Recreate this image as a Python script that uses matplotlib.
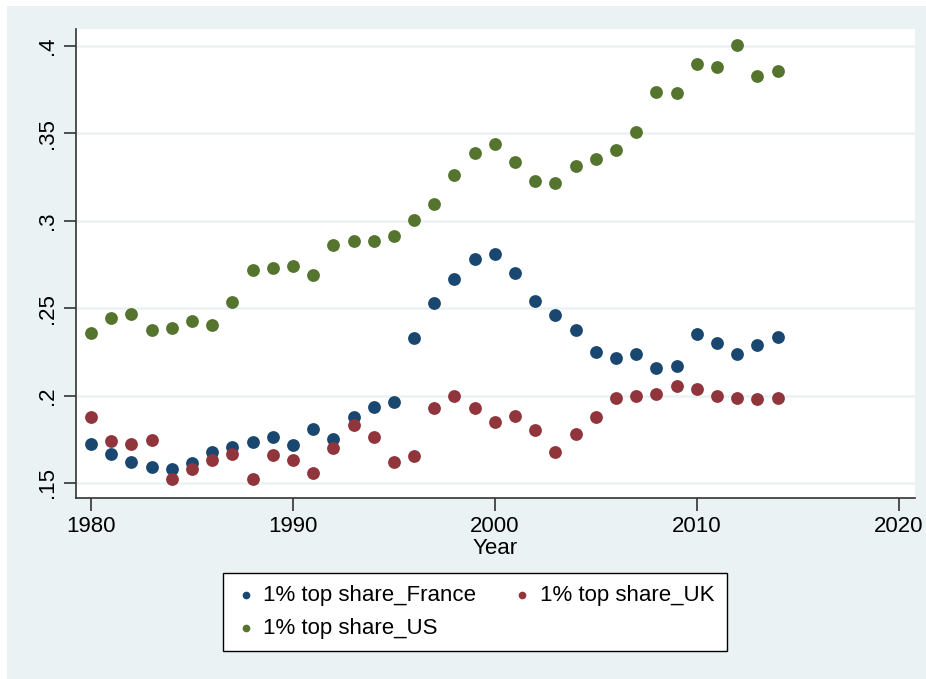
import matplotlib.pyplot as plt
import matplotlib.patches as mpatches

plt.rcParams['font.family'] = ['Liberation Sans', 'DejaVu Sans']

years = list(range(1980, 2015))
france = [.1721, .1668, .1618, .1593, .1580, .1616, .1679, .1708, .1736, .1765,
          .1717, .1809, .1750, .1879, .1933, .1963, .2331, .2530, .2669, .2783,
          .2810, .2703, .2539, .2461, .2375, .2251, .2213, .2238, .2160, .2169,
          .2350, .2299, .2236, .2291, .2337]
uk = [.1876, .1739, .1721, .1748, .1521, .1578, .1630, .1668, .1521, .1660,
      .1633, .1559, .1700, .1830, .1765, .1622, .1654, .1927, .1996, .1931,
      .1851, .1885, .1805, .1679, .1778, .1878, .1988, .1998, .2007, .2057,
      .2038, .1998, .1988, .1979, .1988]
us = [.2358, .2444, .2467, .2375, .2387, .2427, .2404, .2535, .2719, .2730,
      .2741, .2690, .2862, .2884, .2884, .2913, .3005, .3096, .3262, .3388,
      .3439, .3336, .3228, .3216, .3313, .3353, .3405, .3508, .3737, .3731,
      .3897, .3880, .4005, .3828, .3857]
labels = ['1% top share_France', '1% top share_UK', '1% top share_US']

yticks = [.15, .2, .25, .3, .35, .4]
ytick_labels = ['.15', '.2', '.25', '.3', '.35', '.4']
xticks = [1980, 1990, 2000, 2010, 2020]

bg = '#EAF2F3'
fig = plt.figure(figsize=(9.26, 6.79), dpi=100, facecolor='white')
# Stata-style outer region (image is cropped on top/left)
fig.patches.append(mpatches.Rectangle((7 / 926, 0), 1, 1 - 6 / 679,
                                      transform=fig.transFigure,
                                      facecolor=bg, edgecolor='none', zorder=-5))

ax = fig.add_axes([76 / 926, 1 - 498 / 679, (915 - 76) / 926, (498 - 29) / 679])
ax.set_facecolor('white')

p1 = ax.scatter(years, france, s=85, color='#1A476F', label=labels[0], zorder=3, linewidths=0)
p2 = ax.scatter(years, uk, s=85, color='#90353B', label=labels[1], zorder=3, linewidths=0)
p3 = ax.scatter(years, us, s=85, color='#55752F', label=labels[2], zorder=3, linewidths=0)

ax.set_xlim(1979.26, 2020.8)
ax.set_ylim(0.1414, 0.4097)
ax.set_xticks(xticks)
ax.set_yticks(yticks)
ax.set_yticklabels(ytick_labels, rotation=90, va='center')
ax.tick_params(axis='both', labelsize=16, length=9, width=1.2, color='#333333', pad=4)
ax.grid(axis='y', color=bg, linewidth=1.8, zorder=0)
ax.set_axisbelow(True)
for s in ['top', 'right']:
    ax.spines[s].set_visible(False)
for s in ['left', 'bottom']:
    ax.spines[s].set_color('#333333')
    ax.spines[s].set_linewidth(1.2)
ax.set_xlabel('Year', fontsize=16, labelpad=1)

# row-major order like Stata: France, UK / US
leg = fig.legend([p1, p3, p2], [labels[0], labels[2], labels[1]],
                 loc='center', bbox_to_anchor=(475 / 926, 1 - 612 / 679), ncol=2,
                 fontsize=16, frameon=True, fancybox=False, edgecolor='black',
                 framealpha=1, scatterpoints=1, markerscale=0.6, handletextpad=0.35,
                 columnspacing=1.6, labelspacing=0.55, borderpad=0.55,
                 handlelength=0.9)
leg.get_frame().set_linewidth(1.0)

fig.savefig('out.png', dpi=100, facecolor=fig.get_facecolor())
